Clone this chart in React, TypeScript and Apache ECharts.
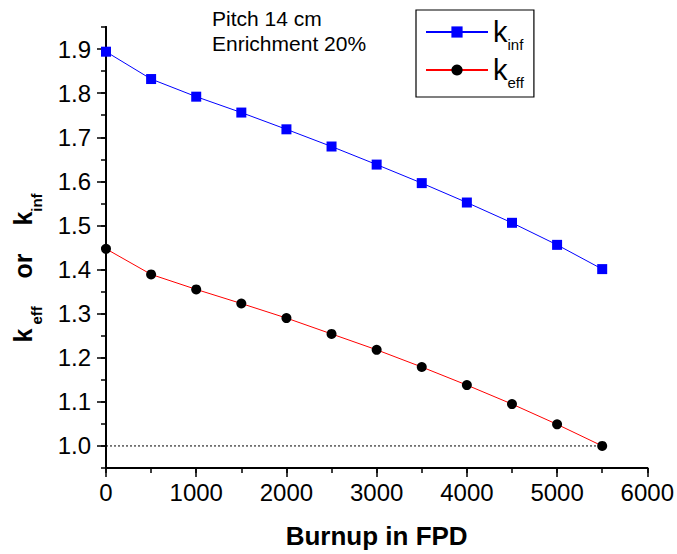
import React, { useEffect, useRef } from "react";
import * as echarts from "echarts";

const burnup = [0, 500, 1000, 1500, 2000, 2500, 3000, 3500, 4000, 4500, 5000, 5500];
const kInf = [1.894, 1.832, 1.792, 1.756, 1.718, 1.679, 1.638, 1.596, 1.552, 1.506, 1.456, 1.401];
const kEff = [1.447, 1.389, 1.355, 1.323, 1.29, 1.254, 1.218, 1.179, 1.138, 1.095, 1.049, 1.0];
const yLabels = [1.0, 1.1, 1.2, 1.3, 1.4, 1.5, 1.6, 1.7, 1.8, 1.9];
const refLine = [[0, 1.0], [5500, 1.0]];
const annotation = ["Pitch 14 cm", "Enrichment 20%"];

const FONT = "'Liberation Sans', Arial, Helvetica, sans-serif";

export default function App() {
  const ref = useRef<HTMLDivElement>(null);
  useEffect(() => {
    document.body.style.margin = "0";
    const chart = echarts.init(ref.current!, null, { renderer: "svg" });
    const axisLine = { show: true, lineStyle: { color: "#000", width: 2 } };
    const option: any = {
      animation: false,
      backgroundColor: "#fff",
      textStyle: { fontFamily: FONT },
      grid: { left: 106, right: 28, top: 27, bottom: 86, containLabel: false },
      xAxis: [
        {
          type: "value",
          position: "bottom",
          min: 0,
          max: 6000,
          interval: 500,
          axisLine,
          axisTick: { show: true, inside: false, length: 5, lineStyle: { color: "#000", width: 1.5 } },
          axisLabel: { show: false },
          splitLine: { show: false },
          name: "Burnup in FPD",
          nameLocation: "middle",
          nameGap: 55,
          nameTextStyle: { fontFamily: FONT, fontSize: 26, fontWeight: "bold", color: "#000" },
        },
        {
          type: "value",
          position: "bottom",
          offset: 0,
          min: 0,
          max: 6000,
          interval: 1000,
          axisLine,
          axisTick: { show: true, inside: false, length: 9, lineStyle: { color: "#000", width: 1.5 } },
          axisLabel: {
            show: true,
            fontFamily: FONT,
            fontSize: 24,
            color: "#000",
            margin: 12,
            formatter: (v: number) => String(v),
          },
          splitLine: { show: false },
        },
      ],
      yAxis: [
        {
          type: "value",
          position: "left",
          min: 0.95,
          max: 1.95,
          interval: 0.05,
          axisLine,
          axisTick: { show: true, inside: false, length: 5, lineStyle: { color: "#000", width: 1.5 } },
          axisLabel: { show: false },
          splitLine: { show: false },
        },
        {
          type: "value",
          position: "left",
          offset: 0,
          min: 0.95,
          max: 1.95,
          axisLine,
          axisTick: { show: true, inside: false, length: 9, customValues: yLabels, lineStyle: { color: "#000", width: 1.5 } },
          axisLabel: {
            show: true,
            customValues: yLabels,
            fontFamily: FONT,
            fontSize: 24,
            color: "#000",
            margin: 15,
            formatter: (v: number) => v.toFixed(1),
          },
          splitLine: { show: false },
        },
      ],
      legend: {
        orient: "vertical",
        left: 416,
        top: 10,
        padding: [2, 10, 7, 9],
        itemGap: -2,
        itemWidth: 62,
        itemHeight: 14,
        borderColor: "#000",
        borderWidth: 1.2,
        backgroundColor: "#fff",
        data: ["kinf", "keff"],
        formatter: (name: string) => `{k|k}{s|${name.slice(1)}}`,
        textStyle: {
          fontFamily: FONT,
          color: "#000",
          rich: {
            k: { fontSize: 29, fontFamily: FONT, color: "#000", lineHeight: 28 },
            s: { fontSize: 15, fontFamily: FONT, color: "#000", lineHeight: 15, padding: [25, 0, 0, 0] },
          },
        },
      },
      graphic: [
        {
          type: "text",
          left: 212,
          top: 6,
          style: {
            text: annotation.join("\n"),
            fontFamily: FONT,
            fontSize: 21,
            lineHeight: 25,
            fill: "#000",
          },
        },
        {
          type: "text",
          x: 23,
          y: 268,
          rotation: Math.PI / 2,
          style: {
            text: "{k|k}{s| eff}{k|    or    k}{s|inf}",
            align: "center",
            verticalAlign: "middle",
            fill: "#000",
            rich: {
              k: { fontSize: 25, fontWeight: "bold", fontFamily: FONT, fill: "#000", lineHeight: 25 },
              s: { fontSize: 15, fontWeight: "bold", fontFamily: FONT, fill: "#000", lineHeight: 15, padding: [27, 0, 0, 0] },
            },
          },
        },
      ],
      series: [
        {
          name: "ref",
          type: "line",
          xAxisIndex: 0,
          yAxisIndex: 0,
          data: refLine,
          symbol: "none",
          lineStyle: { color: "#000", width: 1, type: [2, 2] },
          silent: true,
          z: 1,
        },
        {
          name: "kinf",
          type: "line",
          xAxisIndex: 0,
          yAxisIndex: 0,
          data: burnup.map((x, i) => [x, kInf[i]]),
          symbol: "rect",
          symbolSize: 10,
          itemStyle: { color: "#0000ff" },
          lineStyle: { color: "#0000ff", width: 1 },
          z: 3,
        },
        {
          name: "keff",
          type: "line",
          xAxisIndex: 0,
          yAxisIndex: 0,
          data: burnup.map((x, i) => [x, kEff[i]]),
          symbol: "circle",
          symbolSize: 10,
          itemStyle: { color: "#000" },
          lineStyle: { color: "#ff0000", width: 1 },
          z: 3,
        },
      ],
    };
    chart.setOption(option);
    return () => chart.dispose();
  }, []);
  return <div ref={ref} style={{ width: 677, height: 554 }} />;
}
